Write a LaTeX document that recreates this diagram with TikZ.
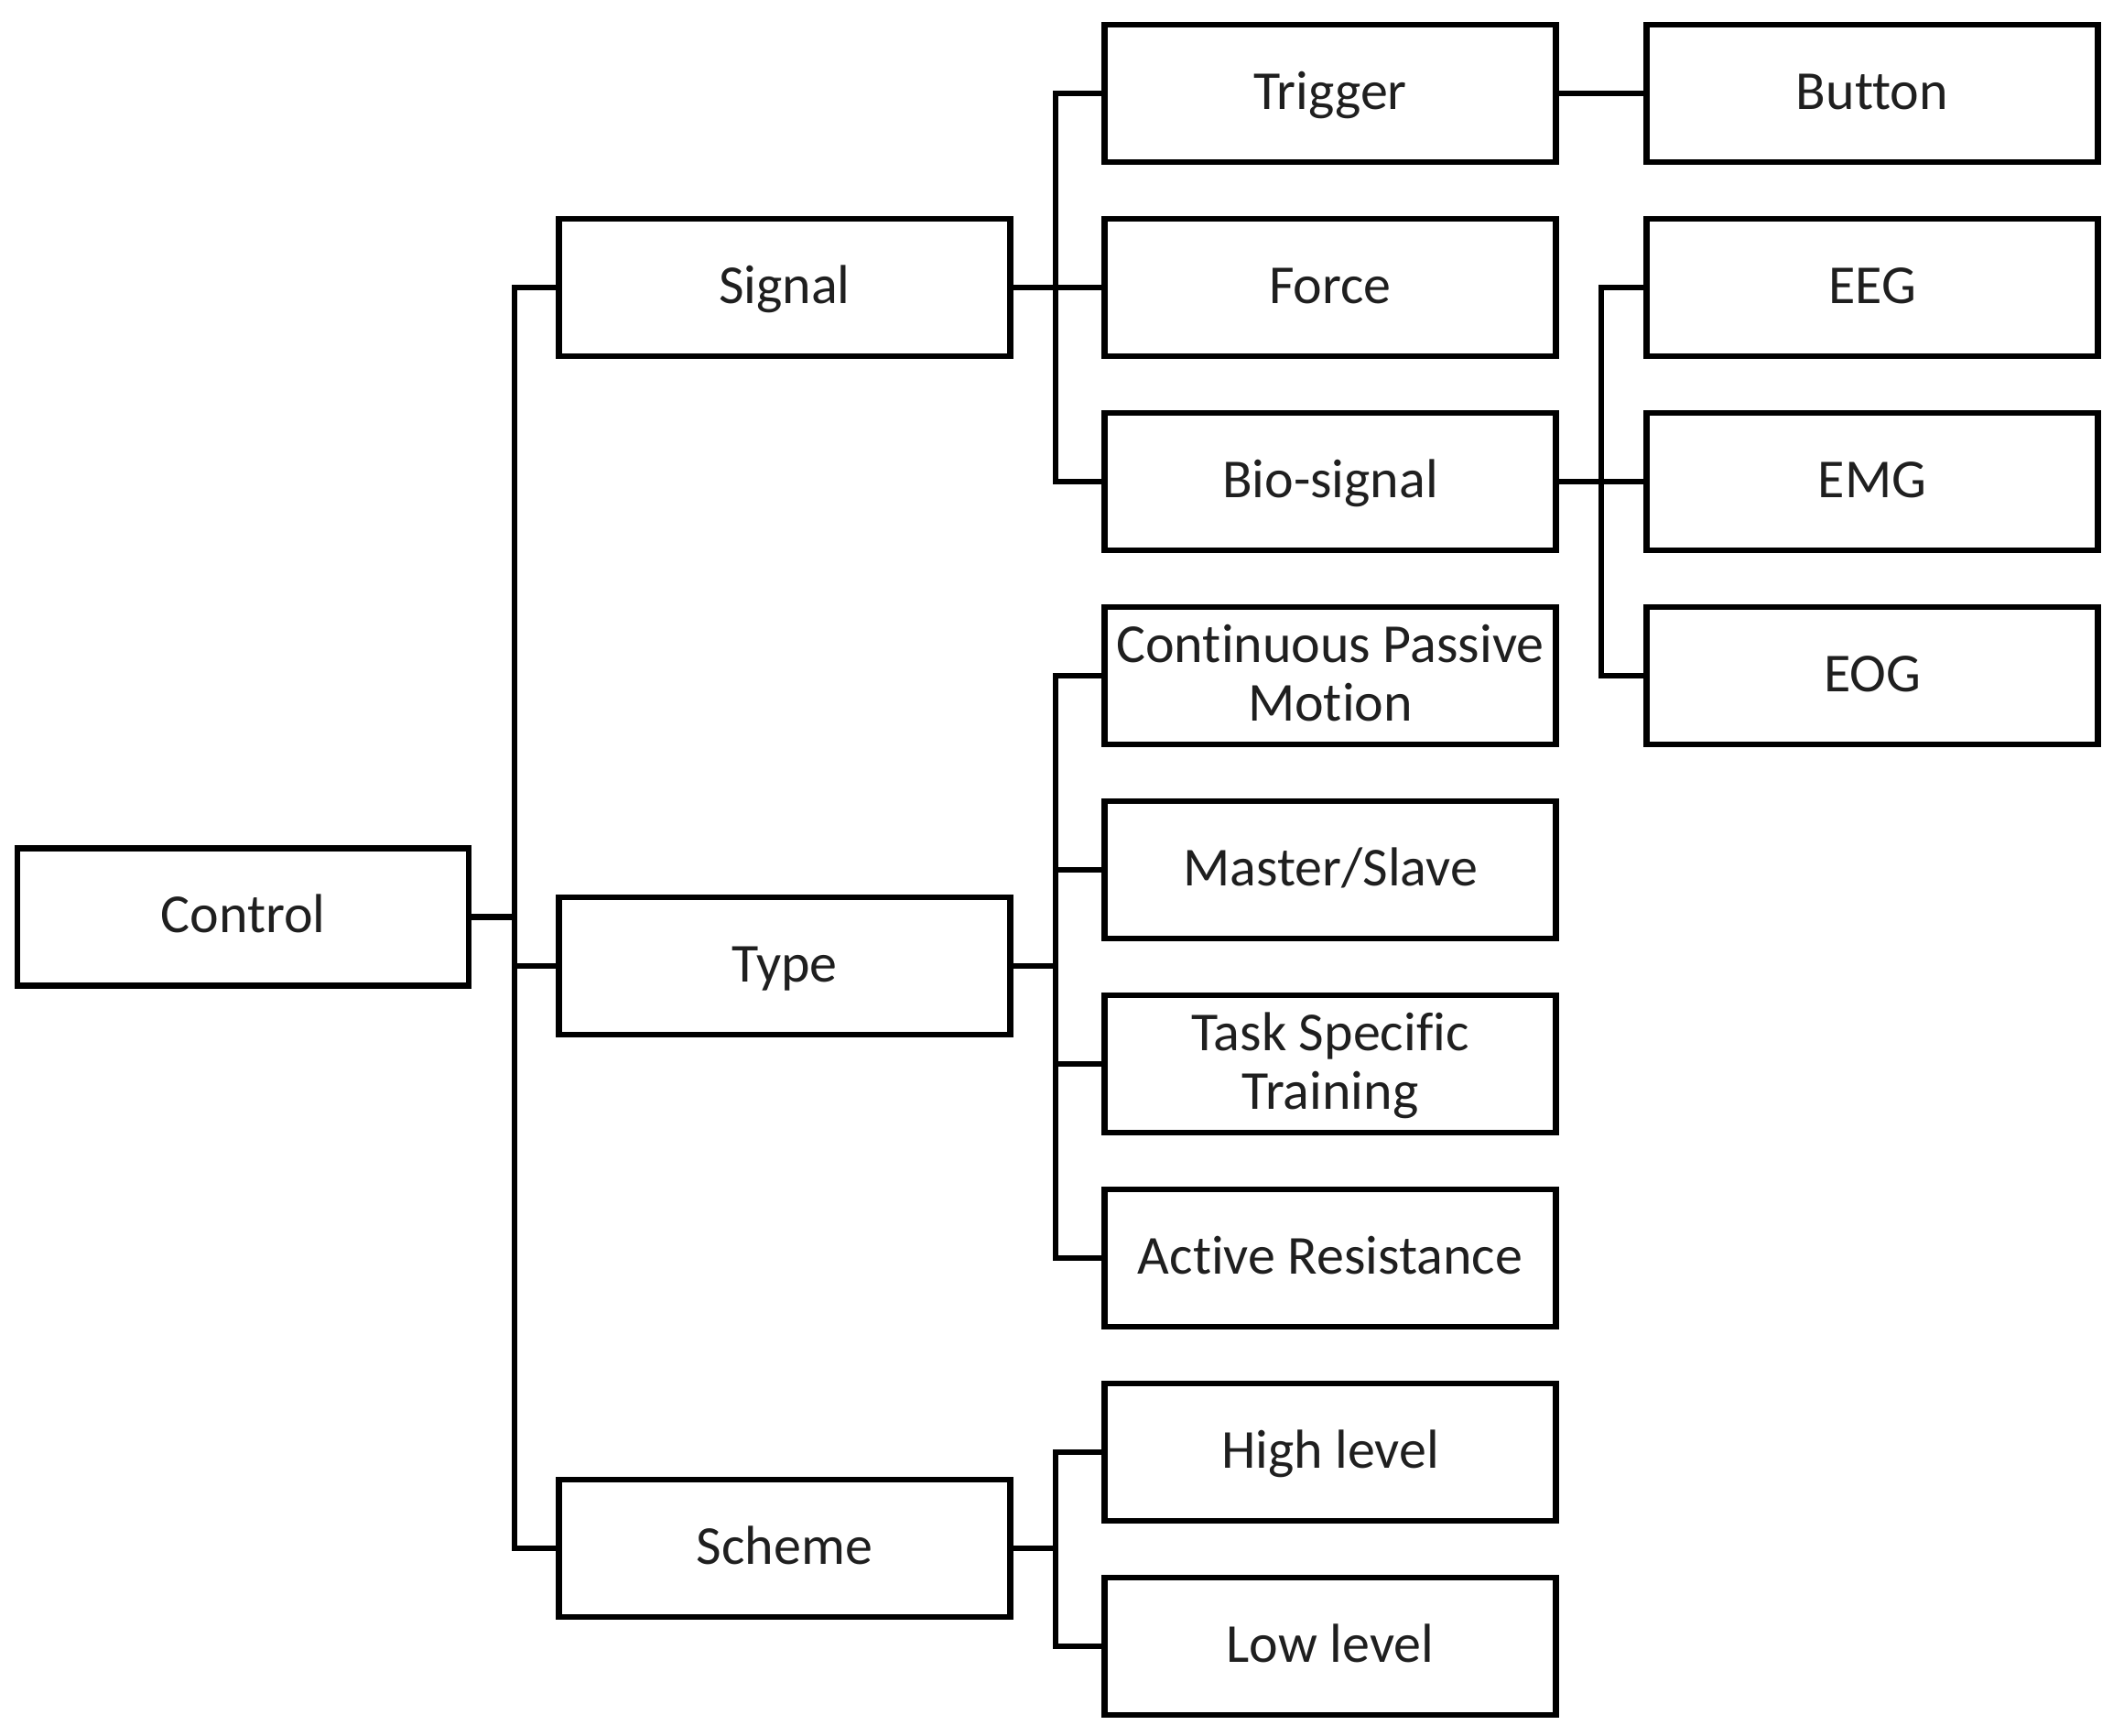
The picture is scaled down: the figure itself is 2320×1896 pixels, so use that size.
\documentclass[tikz,border=0pt]{standalone}
\usepackage{fontspec}
\setmainfont{Carlito}[Ligatures=CommonOff]
\newcommand\boxstrut{\rule[-7.4pt]{0pt}{32pt}}
\begin{document}
\begin{tikzpicture}[x=0.5pt,y=-0.5pt,
  box/.style={draw=black, line width=3.3pt, rectangle, inner sep=0pt,
    minimum width=246.5pt, minimum height=75pt, align=center,
    font=\fontsize{30pt}{32pt}\selectfont, text=black!88},
  one/.style={box, text height=24.6pt, text depth=7.4pt},
  link/.style={draw=black, line width=3.2pt}]
\useasboundingbox (0,0) rectangle (2320,1896);
% column 0
\node[one] (ctrl) at (265.5,1001.5) {Control};
% column 1
\node[one] (sig) at (857,314) {Signal};
\node[one] (typ) at (857,1055) {Type};
\node[one] (sch) at (857,1691) {Scheme};
% column 2
\node[one] (trg) at (1453,102) {Trigger};
\node[one] (frc) at (1453,314) {Force};
\node[one] (bio) at (1453,526) {Bio-signal};
\node[box] (cpm) at (1453,738) {\boxstrut Continuous Passive\\\boxstrut Motion};
\node[one] (ms) at (1453,950) {Master/Slave};
\node[box] (tst) at (1453,1162) {\boxstrut Task Specific\\\boxstrut Training};
\node[one] (ar) at (1453,1374) {Active Resistance};
\node[one] (hl) at (1453,1586) {High level};
\node[one] (ll) at (1453,1798) {Low level};
% column 3
\node[one] (btn) at (2045,102) {Button};
\node[one] (eeg) at (2045,314) {EEG};
\node[one] (emg) at (2045,526) {EMG};
\node[one] (eog) at (2045,738) {EOG};
% trunks
\coordinate (t0) at (562,0);
\coordinate (t1) at (1153,0);
\coordinate (t2) at (1749,0);
% level 0 -> 1
\draw[link] (ctrl.east) -- (ctrl.east -| t0);
\draw[link] (sig.west) -- (sig.west -| t0) -- (sch.west -| t0) -- (sch.west);
\draw[link] (typ.west) -- (typ.west -| t0);
% signal
\draw[link] (sig.east) -- (sig.east -| t1);
\draw[link] (trg.west) -- (trg.west -| t1) -- (bio.west -| t1) -- (bio.west);
\draw[link] (frc.west) -- (frc.west -| t1);
% type
\draw[link] (typ.east) -- (typ.east -| t1);
\draw[link] (cpm.west) -- (cpm.west -| t1) -- (ar.west -| t1) -- (ar.west);
\draw[link] (ms.west) -- (ms.west -| t1);
\draw[link] (tst.west) -- (tst.west -| t1);
% scheme
\draw[link] (sch.east) -- (sch.east -| t1);
\draw[link] (hl.west) -- (hl.west -| t1) -- (ll.west -| t1) -- (ll.west);
% trigger -> button
\draw[link] (trg.east) -- (btn.west);
% bio-signal
\draw[link] (bio.east) -- (bio.east -| t2);
\draw[link] (eeg.west) -- (eeg.west -| t2) -- (eog.west -| t2) -- (eog.west);
\draw[link] (emg.west) -- (emg.west -| t2);
\end{tikzpicture}
\end{document}
